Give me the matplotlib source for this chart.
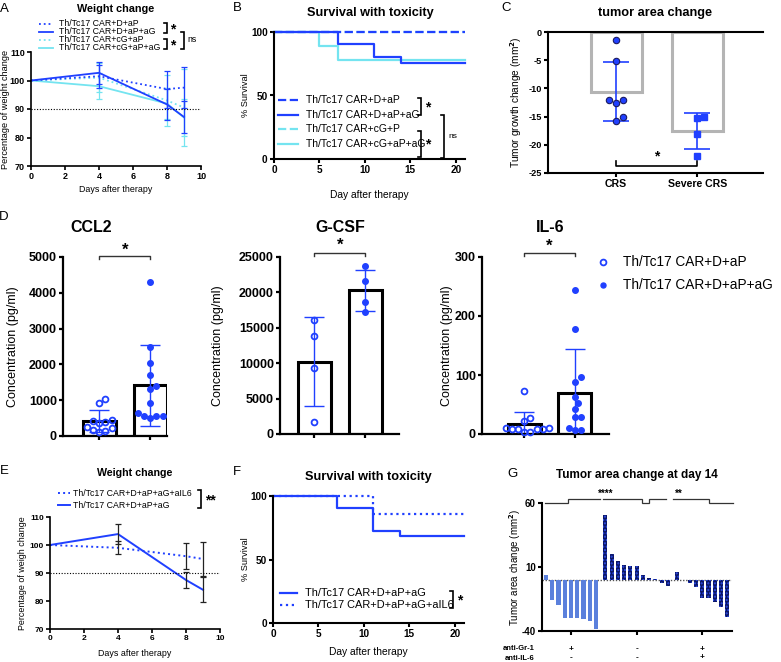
import numpy as np
import matplotlib
matplotlib.use('Agg')
import matplotlib.pyplot as plt
from matplotlib.transforms import blended_transform_factory

plt.rcParams['font.family'] = ['Liberation Sans', 'DejaVu Sans']
plt.rcParams['font.weight'] = 'bold'
plt.rcParams['axes.unicode_minus'] = False
plt.rcParams['hatch.linewidth'] = 1.0

BLUE = '#2040ff'
CYAN = '#74e4f0'
LIGHT = '#5b80dc'
NAVY = '#0c1766'

# ---------------- data ----------------
# A: weight change
a_days = [0, 4, 8, 9]
a_names = ['Th/Tc17 CAR+D+aP', 'Th/Tc17 CAR+D+aP+aG', 'Th/Tc17 CAR+cG+aP', 'Th/Tc17 CAR+cG+aP+aG']
a_d_ap = [100, 101.5, 97.0, 97.5]
a_d_ap_sd = [0, 4.0, 6.5, 7.3]
a_d_ap_ag = [100, 102.7, 91.6, 87.2]
a_d_ap_ag_sd = [0, 3.8, 5.4, 5.7]
a_cg_ap = [100, 101.0, 93.0, 90.5]
a_cg_ap_sd = [0, 5.0, 9.0, 13.5]
a_cg_ap_ag = [100, 98.0, 91.9, 87.0]
a_cg_ap_ag_sd = [0, 4.6, 5.5, 6.5]

# B: survival
b_names = ['Th/Tc17 CAR+D+aP', 'Th/Tc17 CAR+D+aP+aG', 'Th/Tc17 CAR+cG+P', 'Th/Tc17 CAR+cG+aP+aG']
b_d_ap_t = [0, 21]
b_d_ap_s = [100, 100]
b_d_ap_ag_t = [0, 7, 11, 14, 21]
b_d_ap_ag_s = [100, 90.9, 80.0, 75.6, 75.6]
b_cg_p_t = [0, 21]
b_cg_p_s = [100, 100]
b_cg_ap_ag_t = [0, 5, 7, 21]
b_cg_ap_ag_s = [100, 88.9, 77.8, 77.8]

# C: tumor area change
c_cats = ['CRS', 'Severe CRS']
c_crs = [-1.5, -5.2, -12.0, -12.0, -12.5, -15.0, -15.7]
c_severe = [-15.2, -15.0, -18.0, -22.0]

# D: cytokines
d_names = ['Th/Tc17 CAR+D+aP', 'Th/Tc17 CAR+D+aP+aG']
ccl2_dap = [1030, 920, 460, 420, 390, 370, 250, 220, 160, 150, 110]
ccl2_dapag = [4300, 2500, 2050, 1700, 1400, 1300, 920, 650, 560, 550, 550, 500]
gcsf_dap = [16070, 13800, 9350, 1740]
gcsf_dapag = [23700, 21600, 18600, 17250]
il6_dap = [72.7, 27.0, 22.0, 10.0, 10.0, 9.0, 9.0, 8.0, 8.0, 3.0, 3.0]
il6_dapag = [243.6, 177.7, 95.9, 88.0, 62.0, 52.0, 43.0, 29.0, 29.0, 9.6, 6.8, 6.0]

# E: weight change
e_days = [0, 4, 8, 9]
e_names = ['Th/Tc17 CAR+D+aP+aG+aIL6', 'Th/Tc17 CAR+D+aP+aG']
e_il6 = [100, 99.0, 96.0, 95.0]
e_il6_sd = [0, 2.3, 4.6, 6.2]
e_ag = [100, 103.9, 87.5, 84.0]
e_ag_sd = [0, 3.6, 3.0, 4.5]

# F: survival
f_names = ['Th/Tc17 CAR+D+aP+aG', 'Th/Tc17 CAR+D+aP+aG+aIL6']
f_ag_t = [0, 7, 11, 14, 21]
f_ag_s = [100, 90.9, 72.7, 68.2, 68.2]
f_il6_t = [0, 11, 21]
f_il6_s = [100, 85.7, 85.7]

# G: tumor area change at day 14 (waterfall per group)
g_grp1 = [3.9, -15.7, -19.8, -29.8, -29.8, -30.0, -30.5, -31.9, -38.4]
g_grp2 = [50.7, 20.1, 14.6, 11.2, 10.7, 10.7, 3.9, 1.6, 0.8, -2.6, -5.0]
g_grp3 = [6.0, 0.0, -2.6, -5.7, -14.1, -14.4, -17.0, -21.0, -28.7]
g_row_labels = ['anti-Gr-1', 'anti-IL-6']
g_gr1 = ['+', '-', '+']
g_il6 = ['-', '-', '+']

# ---------------- layout helpers ----------------
W, H = 781, 662
fig = plt.figure(figsize=(W / 100, H / 100), dpi=100)
PX = {}


def axpx(l, t, r, b):
    ax = fig.add_axes([l / W, 1 - b / H, (r - l) / W, (b - t) / H])
    PX[ax] = (l, t, r, b)
    return ax


def style(ax, lw=1.2, fs=6.5, ticklen=3):
    ax.spines['top'].set_visible(False)
    ax.spines['right'].set_visible(False)
    for s in ('left', 'bottom'):
        ax.spines[s].set_linewidth(lw)
    ax.tick_params(width=lw, length=ticklen, labelsize=fs, pad=1.5)


def ylab(ax, text, xc, fs):
    l, t, r, b = PX[ax]
    ax.set_ylabel(text, fontsize=fs)
    ax.yaxis.set_label_coords((xc + fs * 1.389 * 0.5 - l) / (r - l), 0.5)


def xlab(ax, text, yc, fs):
    l, t, r, b = PX[ax]
    ax.set_xlabel(text, fontsize=fs)
    ax.xaxis.set_label_coords(0.5, 1 - (yc - fs * 1.389 * 0.5 - t) / (b - t))


ov = fig.add_axes([0, 0, 1, 1], zorder=20)
ov.set_xlim(0, W)
ov.set_ylim(H, 0)
ov.axis('off')


def T(x, y, s, fs, **kw):
    kw.setdefault('va', 'center')
    ov.text(x, y, s, fontsize=fs, **kw)


def bracket(x, y1, y2, w=3, lw=1.2):
    ov.plot([x - w, x, x, x - w], [y1, y1, y2, y2], color='k', lw=lw,
            solid_joinstyle='miter')


def legend_rows(x0, x1, xt, ys, specs, names, fs, lw):
    for y, (c, ls), name in zip(ys, specs, names):
        ov.plot([x0, x1], [y, y], color=c, ls=ls, lw=lw)
        T(xt, y, name, fs, ha='left', fontweight='normal')


def swarm(vals, upy, upx, d):
    vals = np.asarray(vals, float)
    order = np.argsort(vals)
    pts = []
    offs = np.zeros(len(vals))
    cands = sorted(np.arange(-12, 13) * d * 0.5, key=lambda c: (abs(c), -c))
    for i in order:
        y = vals[i] * upy
        cx = 0.0
        for cx in cands:
            if all((cx - px) ** 2 + (y - py) ** 2 >= (d * 0.95) ** 2 for px, py in pts):
                break
        pts.append((cx, y))
        offs[i] = cx / upx
    return offs


# panel letters
for letter, (x, y) in zip('ABCDEFG', [(4, 9), (237, 8), (506, 8), (4, 217),
                                      (4, 471), (237, 472), (512, 474)]):
    T(x, y, letter, 9.5, ha='center', fontweight='normal')

# ---------------- A ----------------
axA = axpx(31, 52, 201, 166)
style(axA, lw=1.2, fs=6.5)
for v, s, c, ls in [(a_cg_ap, a_cg_ap_sd, CYAN, ':'), (a_cg_ap_ag, a_cg_ap_ag_sd, CYAN, '-'),
                    (a_d_ap, a_d_ap_sd, BLUE, ':'), (a_d_ap_ag, a_d_ap_ag_sd, BLUE, '-')]:
    axA.plot(a_days, v, color=c, ls=ls, lw=1.3)
    axA.errorbar(a_days[1:], v[1:], yerr=s[1:], fmt='none', ecolor=c,
                 elinewidth=0.9, capsize=2, capthick=0.9)
axA.axhline(90, color='k', ls=(0, (1, 1.5)), lw=0.8)
axA.set_xlim(0, 10)
axA.set_ylim(70, 110)
axA.set_xticks(range(0, 11, 2))
axA.set_yticks(range(70, 111, 10))
ylab(axA, 'Percentage of weight change', 5, 6.6)
xlab(axA, 'Days after therapy', 189, 6.4)
T(116, 9, 'Weight change', 7.8, ha='center')
legend_rows(39, 53, 59, [24, 32, 40, 48],
            [(BLUE, ':'), (BLUE, '-'), (CYAN, ':'), (CYAN, '-')], a_names, 6.3, 1.3)
bracket(167, 23, 33)
T(173, 29, '*', 10, ha='center')
bracket(167, 39, 49)
T(173, 45, '*', 10, ha='center')
bracket(184, 32, 49)
T(187, 40, 'ns', 6.3, ha='left', fontweight='normal')

# ---------------- B ----------------
axB = axpx(274, 32, 465, 159)
style(axB, lw=1.5, fs=7.2)
axB.step(b_cg_p_t, b_cg_p_s, where='post', color=CYAN, ls='--', lw=1.6, clip_on=False)
axB.step(b_d_ap_t, b_d_ap_s, where='post', color=BLUE, ls='--', lw=1.6, clip_on=False)
axB.step(b_cg_ap_ag_t, b_cg_ap_ag_s, where='post', color=CYAN, ls='-', lw=1.6, clip_on=False)
axB.step(b_d_ap_ag_t, b_d_ap_ag_s, where='post', color=BLUE, ls='-', lw=1.6, clip_on=False)
axB.set_xlim(0, 21)
axB.set_ylim(0, 100)
axB.set_xticks([0, 5, 10, 15, 20])
axB.set_yticks([0, 50, 100])
ylab(axB, '% Survival', 245, 6.6)
xlab(axB, 'Day after therapy', 195, 7.4)
T(370, 13, 'Survival with toxicity', 9.2, ha='center')
legend_rows(278, 298, 306, [100, 115, 129, 144],
            [(BLUE, '--'), (BLUE, '-'), (CYAN, '--'), (CYAN, '-')], b_names, 7.5, 1.6)
bracket(421, 98, 115)
T(428, 107, '*', 10, ha='center')
bracket(421, 131, 157)
T(428, 144, '*', 10, ha='center')
bracket(444, 115, 158)
T(448, 137, 'ns', 6, ha='left', fontweight='normal')

# ---------------- C ----------------
axC = axpx(548, 32, 763, 173)
style(axC, lw=1.5, fs=6.6)
axC.spines['top'].set_visible(True)
axC.spines['top'].set_linewidth(1.5)
c_groups = [c_crs, c_severe]
c_means = [np.mean(g) for g in c_groups]
c_sds = [np.std(g, ddof=1) for g in c_groups]
axC.bar([0, 1], c_means, width=0.63, facecolor='none', edgecolor='#b4b4b4', lw=2.2, zorder=1)
axC.errorbar([0, 1], c_means, yerr=c_sds, fmt='none', ecolor=BLUE, elinewidth=1.2,
             capsize=9.5, capthick=1.2, zorder=3)
offc = swarm(c_crs, 141 / 25, 81, 7)
axC.plot(0 + offc, c_crs, 'o', ms=4.6, mfc=BLUE, mec='#1a1a60', mew=0.8, ls='none', zorder=4)
offs = swarm(c_severe, 141 / 25, 81, 7)
axC.plot(1 + offs, c_severe, 's', ms=4.2, color=BLUE, ls='none', zorder=4)
axC.set_xlim(-0.84, 1.81)
axC.set_ylim(-25, 0)
axC.set_yticks([-25, -20, -15, -10, -5, 0])
axC.set_xticks([0, 1])
axC.set_xticklabels(c_cats, fontsize=7.6)
axC.plot([0, 0, 1, 1], [-22.8, -23.8, -23.8, -22.8], color='k', lw=1.2, clip_on=False)
axC.text(0.5, -22.0, '*', fontsize=10, ha='center', va='center')
ylab(axC, 'Tumor growth change (mm$^\\mathbf{2}$)', 519, 7.3)
T(655, 13, 'tumor area change', 9.2, ha='center')


# ---------------- D ----------------
def cyto(px, g1, g2, ylim, yticks, xlim, title, title_xy, ylx, br_y, leg_h, star_y):
    ax = axpx(*px)
    style(ax, lw=1.6, fs=9)
    l, t, r, b = px
    means = [np.mean(g1), np.mean(g2)]
    sds = [np.std(g1, ddof=1), np.std(g2, ddof=1)]
    ax.bar([0, 1], means, width=0.65, facecolor='white', edgecolor='k', lw=2.2, zorder=1)
    ax.errorbar([0, 1], means, yerr=sds, fmt='none', ecolor=BLUE, elinewidth=1.0,
                capsize=7.5, capthick=1.0, zorder=2)
    upy = (b - t) / (ylim[1] - ylim[0])
    upx = (r - l) / (xlim[1] - xlim[0])
    o1 = swarm(g1, upy, upx, 6.2)
    o2 = swarm(g2, upy, upx, 6.2)
    ax.plot(0 + o1, g1, 'o', ms=4.2, mfc='none', mec=BLUE, mew=1.3, ls='none', zorder=3,
            clip_on=False)
    ax.plot(1 + o2, g2, 'o', ms=4.0, color=BLUE, ls='none', zorder=3, clip_on=False)
    ax.set_xlim(*xlim)
    ax.set_ylim(*ylim)
    ax.set_yticks(yticks)
    ax.set_xticks([0, 1])
    ax.set_xticklabels(['', ''])
    ax.plot([0, 0, 1, 1], [br_y - leg_h, br_y, br_y, br_y - leg_h], color='#333333',
            lw=1.0, clip_on=False)
    ax.text(0.5, star_y, '*', fontsize=12, ha='center', va='center')
    ylab(ax, 'Concentration (pg/ml)', ylx, 9)
    T(title_xy[0], title_xy[1], title, 11.5, ha='center')
    return ax


cyto((63, 257, 167, 436), ccl2_dap, ccl2_dapag, (0, 5000), range(0, 5001, 1000),
     (-0.71, 1.33), 'CCL2', (91, 227), 13, 5030, 90, 5200)
cyto((280, 257, 399, 434), gcsf_dap, gcsf_dapag, (0, 25000), range(0, 25001, 5000),
     (-0.68, 1.67), 'G-CSF', (340, 227), 218, 25560, 420, 26600)
cyto((482, 257, 609, 434), il6_dap, il6_dapag, (0, 300), [0, 100, 200, 300],
     (-0.83, 1.67), 'IL-6', (550, 227), 447, 306, 4, 318)

ov.plot([603], [262], 'o', ms=4.2, mfc='none', mec=BLUE, mew=1.3)
ov.plot([603], [285], 'o', ms=3.6, color=BLUE)
T(623, 262, d_names[0], 9.8, ha='left', fontweight='normal')
T(623, 285, d_names[1], 9.8, ha='left', fontweight='normal')

# ---------------- E ----------------
axE = axpx(50, 517, 220, 629)
style(axE, lw=1.2, fs=6.0)
axE.plot(e_days, e_il6, color=BLUE, ls=':', lw=1.4)
axE.plot(e_days, e_ag, color=BLUE, ls='-', lw=1.4)
axE.errorbar(e_days[1:], e_il6[1:], yerr=e_il6_sd[1:], fmt='none', ecolor='#222222',
             elinewidth=0.9, capsize=2.5, capthick=0.9)
axE.errorbar(e_days[1:], e_ag[1:], yerr=e_ag_sd[1:], fmt='none', ecolor='#222222',
             elinewidth=0.9, capsize=2.5, capthick=0.9)
axE.axhline(90, color='k', ls=(0, (1, 1.5)), lw=0.8)
axE.set_xlim(0, 10)
axE.set_ylim(70, 110)
axE.set_xticks(range(0, 11, 2))
axE.set_yticks(range(70, 111, 10))
ylab(axE, 'Percentage of weigh change', 23, 6.4)
xlab(axE, 'Days after therapy', 653, 6.4)
T(135, 473, 'Weight change', 7.7, ha='center')
legend_rows(58, 70, 73, [493, 505], [(BLUE, ':'), (BLUE, '-')], e_names, 6.3, 1.4)
bracket(201, 490, 508)
T(210, 500, '**', 10, ha='center')

# ---------------- F ----------------
axF = axpx(273, 496, 464, 623)
style(axF, lw=1.5, fs=7.2)
axF.step(f_il6_t, f_il6_s, where='post', color=BLUE, ls=':', lw=1.6, clip_on=False)
axF.step(f_ag_t, f_ag_s, where='post', color=BLUE, ls='-', lw=1.6, clip_on=False)
axF.set_xlim(0, 21)
axF.set_ylim(0, 100)
axF.set_xticks([0, 5, 10, 15, 20])
axF.set_yticks([0, 50, 100])
ylab(axF, '% Survival', 245, 6.6)
xlab(axF, 'Day after therapy', 652, 7.4)
T(368, 477, 'Survival with toxicity', 9.2, ha='center')
legend_rows(280, 297, 305, [593, 605], [(BLUE, '-'), (BLUE, ':')], f_names, 7.9, 1.6)
bracket(453, 591, 608)
T(460, 600, '*', 10, ha='center')

# ---------------- G ----------------
axG = axpx(542, 503, 732, 631)
style(axG, lw=1.5, fs=7.0)
g_groups = [g_grp1, g_grp2, g_grp3]
g_centers = [0, 10.5, 21]
for k, (grp, cen) in enumerate(zip(g_groups, g_centers)):
    pos = cen + np.arange(len(grp)) - (len(grp) - 1) / 2
    if k == 0:
        axG.bar(pos, grp, width=0.66, color=LIGHT, lw=0, zorder=2)
    else:
        axG.bar(pos, grp, width=0.66, facecolor=NAVY, edgecolor='#3050f0', hatch='.....',
                lw=0, zorder=2)
axG.axhline(0, color='#555555', ls=(0, (1, 1.2)), lw=1.0, zorder=1)
axG.set_xlim(-4.64, 25.76)
axG.set_ylim(-40, 60)
axG.set_yticks([-40, 10, 60])
axG.set_xticks(g_centers)
axG.set_xticklabels(['', '', ''])
ylab(axG, 'Tumor area change (mm$^\\mathbf{2}$)', 518, 7.0)
T(637, 475, 'Tumor area change at day 14', 8.5, ha='center')
# comparison brackets above the plot
bl = dict(color='#333333', lw=0.9, clip_on=False, solid_joinstyle='miter')
yb, yt = 60, 63.2
axG.plot([-4.11, -0.48, -0.48, 4.69], [yb, yb, yt, yt], **bl)
axG.plot([5.12, 11.36, 11.36, 12.43, 12.43, 15.2], [yt, yt, yb, yb, yt, yt], **bl)
axG.plot([16.27, 22.13, 22.13, 25.87], [yt, yt, yb, yb], **bl)
axG.text(5.5, 67.5, '****', fontsize=7, ha='center', va='center')
axG.text(17.2, 67.5, '**', fontsize=7, ha='center', va='center')
tr = blended_transform_factory(axG.transData, axG.transAxes)
for row, (lab, signs) in enumerate(zip(g_row_labels, [g_gr1, g_il6])):
    yfrac = (631 - (649 + 9 * row)) / 128
    axG.text(-4.64 - 1.2, yfrac, lab, fontsize=5.5, ha='right', va='center',
             transform=tr, clip_on=False)
    for cen, s in zip(g_centers, signs):
        axG.text(cen, yfrac, s, fontsize=6, ha='center', va='center', transform=tr,
                 clip_on=False)

fig.savefig('out.png', dpi=100)
